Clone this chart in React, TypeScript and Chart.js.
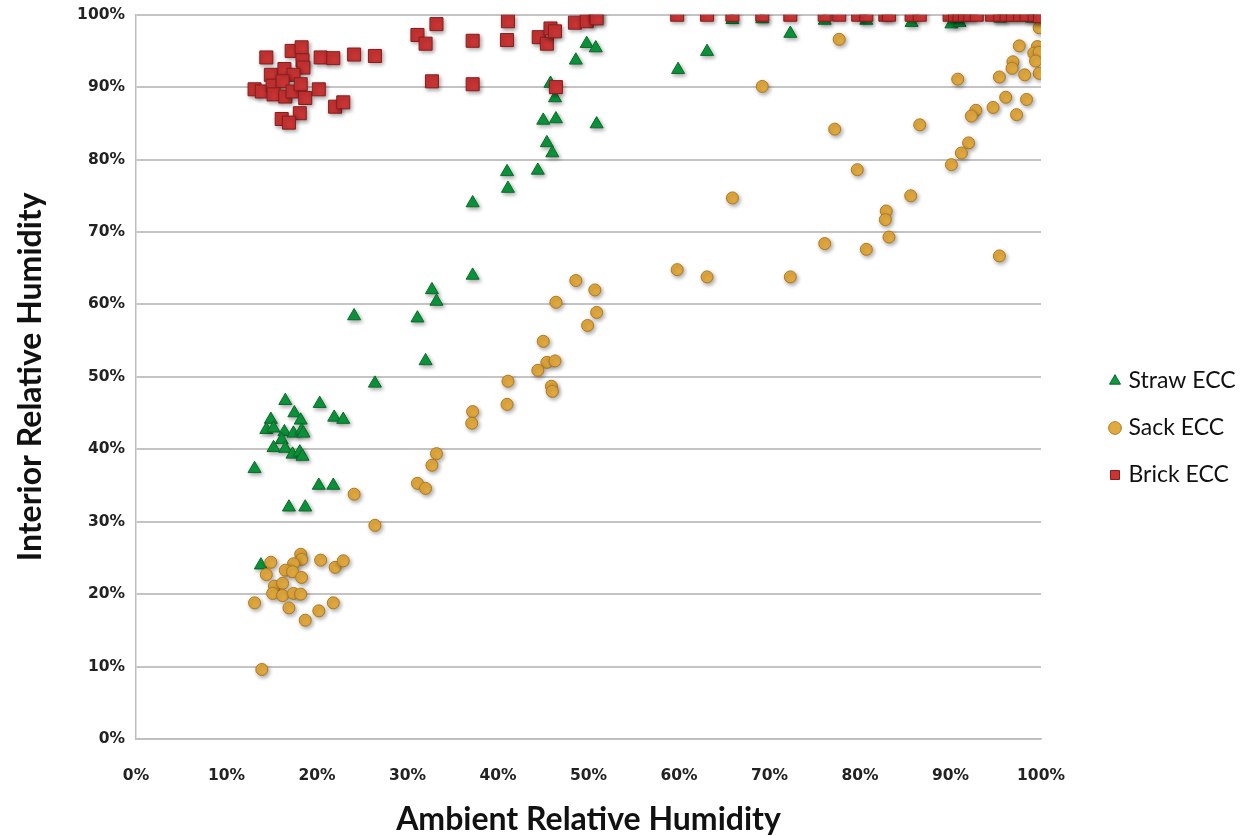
import React, { useEffect, useRef } from "react";
import { Chart, registerables } from "chart.js";

Chart.register(...registerables);

const xTicks = [0, 10, 20, 30, 40, 50, 60, 70, 80, 90, 100];

const seriesNames = ["Straw ECC", "Sack ECC", "Brick ECC"];

const strawX = [16.5, 20.3, 17.5, 18.2, 21.9, 22.9, 14.9, 14.4, 15.2, 16.4, 17.4, 18.3, 18.5, 16.1, 15.2, 16.5, 17.3, 18.1, 18.4, 13.1, 20.2, 21.8, 16.9, 18.7, 13.8, 26.4, 24.1, 45.4, 46.0, 41.0, 44.4, 41.1, 37.2, 37.2, 32.7, 33.2, 31.1, 32.0, 49.8, 50.8, 48.6, 45.8, 46.3, 45.0, 46.4, 50.9, 59.9, 63.1, 72.3, 65.9, 69.2, 76.1, 80.7, 85.7, 90.1, 91.0, 95.5, 99.0];
const strawY = [46.7, 46.3, 45.0, 44.0, 44.4, 44.1, 44.1, 42.7, 42.9, 42.4, 42.2, 42.6, 42.2, 41.3, 40.2, 40.1, 39.3, 39.6, 39.0, 37.3, 35.0, 35.0, 32.0, 32.0, 24.0, 49.1, 58.4, 82.3, 80.9, 78.3, 78.5, 76.0, 74.0, 64.0, 62.0, 60.4, 58.1, 52.2, 96.0, 95.4, 93.7, 90.5, 88.5, 85.4, 85.6, 84.9, 92.4, 94.9, 97.4, 99.3, 99.4, 99.2, 99.2, 98.9, 98.7, 98.9, 99.5, 99.5];

const sackX = [14.9, 14.4, 18.2, 18.3, 17.4, 20.4, 22.0, 22.9, 16.5, 17.3, 18.3, 15.3, 16.2, 15.1, 16.2, 17.4, 18.2, 13.1, 16.9, 18.7, 20.2, 21.8, 13.9, 24.1, 26.4,
  48.6, 50.7, 46.4, 50.9, 49.9, 45.0, 45.4, 46.3, 44.4, 41.1, 45.9, 46.0, 41.0, 37.2, 37.1, 33.2, 32.7, 31.1, 32.0,
  77.2, 86.6, 92.0, 91.2, 90.1, 79.7, 65.9, 85.6, 82.9, 82.8, 83.2, 76.1, 80.7, 95.4, 59.8, 63.1, 72.3,
  77.7, 69.2,
  99.8, 97.6, 99.6, 99.2, 99.8, 99.4, 96.9, 96.8, 99.8, 98.2, 95.4, 90.8, 96.1, 98.4, 92.8, 94.7, 92.3, 97.3];
const sackY = [24.4, 22.7, 25.5, 24.8, 24.2, 24.7, 23.7, 24.6, 23.3, 23.1, 22.3, 21.1, 21.5, 20.1, 19.8, 20.1, 20.0, 18.8, 18.1, 16.4, 17.7, 18.8, 9.6, 33.8, 29.5,
  63.3, 62.0, 60.3, 58.9, 57.1, 54.9, 52.0, 52.2, 50.9, 49.4, 48.7, 48.0, 46.2, 45.2, 43.6, 39.4, 37.8, 35.3, 34.6,
  84.2, 84.8, 82.3, 80.9, 79.3, 78.6, 74.7, 75.0, 72.9, 71.7, 69.3, 68.4, 67.6, 66.7, 64.8, 63.8, 63.8,
  96.6, 90.1,
  98.2, 95.7, 95.6, 94.7, 94.8, 93.6, 93.5, 92.6, 91.9, 91.7, 91.4, 91.1, 88.6, 88.3, 86.8, 87.2, 86.0, 86.2];

const brickX = [14.4, 17.2, 18.3, 18.4, 18.5, 20.4, 21.8, 24.1, 26.4, 14.9, 16.4, 17.4, 13.1, 13.9, 15.1, 16.2, 15.2, 16.5, 17.3, 18.2, 18.7, 20.2, 22.0, 22.9, 18.1, 16.1, 16.9,
  31.1, 32.0, 33.2, 32.7, 37.2, 37.2, 41.1, 41.0, 44.5, 45.4, 45.8, 46.3, 46.4, 48.5, 49.8, 50.8, 50.9,
  59.8, 63.1, 65.9, 69.2, 72.3, 76.1, 77.7, 79.8, 80.7, 82.8, 83.2, 85.7, 86.6, 89.9, 90.5, 91.0, 91.6, 92.2, 92.9, 94.6, 95.5, 96.2, 96.9, 97.7, 98.4, 99.3, 99.9];
const brickY = [94.1, 95.0, 95.5, 93.7, 92.7, 94.1, 94.0, 94.5, 94.3, 91.7, 92.5, 91.7, 89.7, 89.4, 90.2, 90.8, 89.0, 88.7, 89.4, 90.4, 88.5, 89.7, 87.3, 87.9, 86.4, 85.6, 85.1,
  97.2, 96.0, 98.7, 90.8, 90.4, 96.4, 99.1, 96.5, 96.9, 96.0, 98.1, 97.7, 90.0, 98.9, 99.1, 99.8, 99.5,
  100, 100, 100, 100, 100, 100, 100, 100, 100, 100, 100, 100, 100, 100, 100, 100, 100, 100, 100, 100, 100, 100, 100, 100, 100, 100, 99.8];

const toPoints = (xs: number[], ys: number[]) => xs.map((x, i) => ({ x, y: ys[i] }));

const shadowPlugin = {
  id: "markerShadow",
  beforeDatasetsDraw(chart: any) {
    const c = chart.ctx;
    c.save();
    c.shadowColor = "rgba(0,0,0,0.35)";
    c.shadowBlur = 4;
    c.shadowOffsetX = 1.5;
    c.shadowOffsetY = 2;
  },
  afterDatasetsDraw(chart: any) {
    chart.ctx.restore();
  },
};

const legendPlace = {
  id: "legendPlace",
  afterLayout(chart: any) {
    const l = chart.legend;
    if (!l) return;
    l.left = 1089;
    l.right = chart.width;
    const dy = 345.5 - l.top;
    l.top += dy;
    l.bottom += dy;
  },
};

export default function App() {
  const ref = useRef<HTMLCanvasElement>(null);
  useEffect(() => {
    if (!ref.current) return;
    const tickFont = { family: "'DejaVu Sans'", size: 15.5, weight: "bold" as const };
    const titleFont = { family: "Lato", size: 32, weight: "bold" as const };
    const chart = new Chart(ref.current, {
      type: "scatter",
      data: {
        datasets: [
          {
            label: seriesNames[0],
            data: toPoints(strawX, strawY),
            pointStyle: "triangle",
            pointRadius: 7.5,
            pointHoverRadius: 7.5,
            backgroundColor: "#0b9a3d",
            borderColor: "#0a6a2a",
            borderWidth: 1,
            order: 2,
          },
          {
            label: seriesNames[1],
            data: toPoints(sackX, sackY),
            pointStyle: "circle",
            pointRadius: 6,
            pointHoverRadius: 6,
            backgroundColor: "#e2a93f",
            borderColor: "#b07a1e",
            borderWidth: 1,
            order: 1,
          },
          {
            label: seriesNames[2],
            data: toPoints(brickX, brickY),
            pointStyle: "rect",
            pointRadius: 9.2,
            pointHoverRadius: 9.2,
            backgroundColor: "#c93434",
            borderColor: "#8a1c1c",
            borderWidth: 1,
            order: 0,
          },
        ],
      },
      options: {
        responsive: false,
        animation: false,
        devicePixelRatio: 1,
        layout: { padding: { top: 14.7, right: 106, bottom: 0, left: 0 } },
        plugins: {
          tooltip: { enabled: false },
          legend: {
            position: "right",
            align: "start",
            maxWidth: 100,
            labels: {
              usePointStyle: true,
              boxWidth: 4,
              boxHeight: 9,
              padding: 24,
              color: "#111",
              font: { family: "Lato", size: 23 },
              sort: (a: any, b: any) => a.datasetIndex - b.datasetIndex,
            },
          },
        },
        scales: {
          x: {
            type: "linear",
            min: 0,
            max: 100,
            afterBuildTicks: (s: any) => {
              s.ticks = xTicks.map((v) => ({ value: v }));
            },
            afterFit: (s: any) => {
              s.height = 97;
            },
            ticks: {
              callback: (v: any) => v + "%",
              font: tickFont,
              color: "#222",
              padding: 28,
              maxRotation: 0,
            },
            grid: { display: false, drawTicks: false },
            border: { display: true, color: "#bdbdbd", width: 1.5 },
            title: {
              display: true,
              text: "Ambient Relative Humidity",
              font: titleFont,
              color: "#111",
              padding: { top: 0, bottom: -3 },
            },
          },
          y: {
            type: "linear",
            min: 0,
            max: 100,
            afterBuildTicks: (s: any) => {
              s.ticks = xTicks.map((v) => ({ value: v }));
            },
            afterFit: (s: any) => {
              s.width = 136;
              s.paddingTop = 5;
              s.paddingBottom = 5;
            },
            ticks: {
              callback: (v: any) => v + "%",
              font: tickFont,
              color: "#222",
              padding: 11,
            },
            grid: { display: true, drawTicks: false, color: "#c4c4c4", lineWidth: 2 },
            border: { display: true, color: "#bdbdbd", width: 1.5 },
            title: {
              display: true,
              text: "Interior Relative Humidity",
              font: titleFont,
              color: "#111",
              padding: { top: 11, bottom: 0 },
            },
          },
        },
      },
      plugins: [shadowPlugin, legendPlace],
    });
    return () => chart.destroy();
  }, []);
  return (
    <div style={{ position: "fixed", left: 0, top: 0, width: 1247, height: 836, background: "#fff" }}>
      <canvas ref={ref} width={1247} height={836} />
    </div>
  );
}
